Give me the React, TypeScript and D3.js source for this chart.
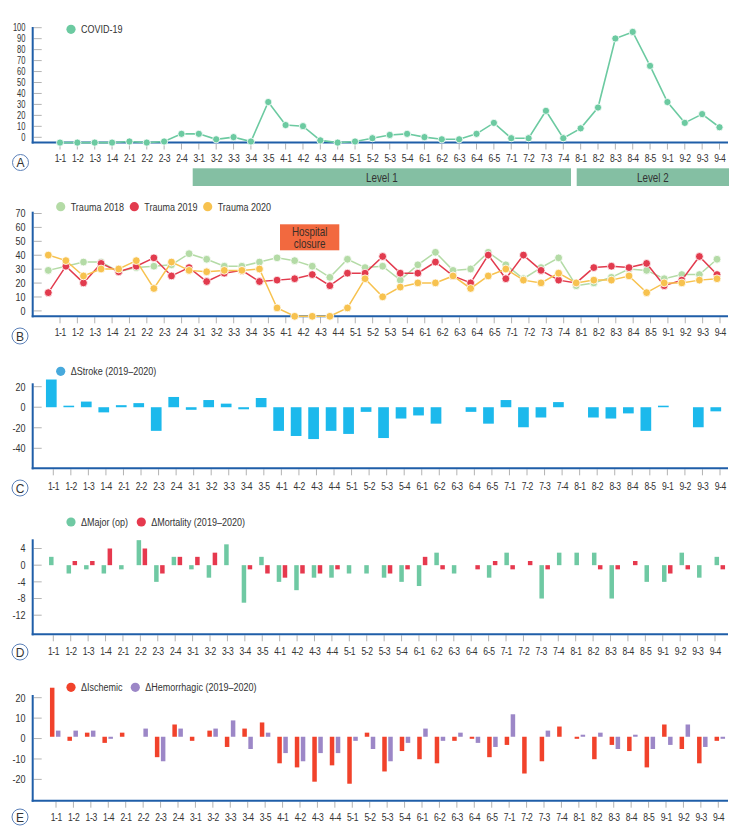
import React from 'react';
import * as d3 from 'd3';

const cats = ['1-1','1-2','1-3','1-4','2-1','2-2','2-3','2-4','3-1','3-2','3-3','3-4','3-5','4-1','4-2','4-3','4-4','5-1','5-2','5-3','5-4','6-1','6-2','6-3','6-4','6-5','7-1','7-2','7-3','7-4','8-1','8-2','8-3','8-4','8-5','9-1','9-2','9-3','9-4'];

const covid = [0,0,0,0,1,0,1,8,8,3,5,1,37,16,15,2,0,1,4,7,8,5,3,3,8,18,4,4,29,4,13,32,95,101,70,37,18,26,14];

const trauma2018 = [33,36,39,39,32,35,36,37,45,41,36,36,39,42,40,36,28,41,35,36,26,37,46,33,34,46,37,27,35,42,22,24,28,34,33,27,30,30,41];
const trauma2019 = [17,36,24,38,32,36,42,29,35,25,31,33,25,26,27,30,22,31,31,43,31,31,39,29,24,44,27,44,33,26,24,35,36,35,38,22,26,43,30];
const trauma2020 = [44,40,29,34,34,40,20,39,33,32,33,33,34,6,0,0,0,6,27,14,21,24,24,29,20,29,34,26,24,31,24,26,26,29,17,24,24,26,27];

const strokeDelta = [27,1.5,5.5,-5,2,4,-23,10,-2.5,7,3.5,-2,9,-23,-28,-31,-23,-26,-4.5,-30,-11,-8,-16,0,-4.5,-16,7,-19.5,-10,5,0,-10,-11,-6,-23,1.5,0,-19.5,-4];

const majorOp = [2,-2,-1,-2,-1,6,-4,2,-1,-3,5,-9,2,-4,-6,-3,-3,-2,-2,-3,-4,-5,3,-2,0,-3,3,0,-8,3,3,3,-8,0,-4,-4,3,-3,2];
const mortality = [0,1,1,4,0,4,-2,2,2,3,0,-1,-2,-3,-2,-2,-1,0,0,-2,-1,2,-1,0,-1,1,-1,1,-1,0,0,-1,-1,1,0,-2,-1,0,-1];

const ischemic = [24,-2,2,-3,2,0,-10,6,-2,3,-5,4,7,-13,-15,-22,-14,-23,2,-17,-7,-11,-13,-2,-1,-10,-4,-18,-12,5,-1,-11,-4,-7,-15,6,-6,-13,-2];
const hemorrhagic = [3,3,3,-1,0,4,-12,4,0,4,8,-6,2,-8,-12,-8,-8,-2,-6,-12,-3,4,-2,2,-3,-5,11,0,3,0,1,2,-6,1,-6,-4,6,-5,-1];

const ticksA = [0,10,20,30,40,50,60,70,80,90,100];
const ticksB = [0,10,20,30,40,50,60,70];
const ticksC = [20,0,-20,-40];
const ticksD = [4,0,-4,-8,-12];
const ticksE = [20,10,0,-10,-20];

const levelNames = ['Level 1', 'Level 2'];
const levelSpans = [
  [192.7, 571],
  [576.7, 729],
];

const FONT = '"Liberation Sans", Arial, sans-serif';
const AXIS = '#1f5ea8';
const TICK = '#a0a0a0';
const TXT = '#333333';
const AX_X0 = 32.7;
const AX_X1 = 728;
const SX = 0.82; // horizontal condensing of the narrow typeface

const C_COVID = '#6ccaa1';
const C_LEVEL = '#84bfa3';
const C_T18 = '#b4dba6';
const C_T19 = '#e23b4e';
const C_T20 = '#f7c24f';
const C_CLOSE = '#f2693f';
const C_STROKE = '#1cb9ec';
const C_STROKE_L = '#47a9dc';
const C_MAJOR = '#6fc9a3';
const C_MORT = '#e6394e';
const C_ISCH = '#f1422b';
const C_HEM = '#9c87c7';

type PS = d3.ScalePoint<string>;

function Txt({ x, y, children, anchor = 'start', size = 11, sx = SX, fill = TXT, ls = 0 }: { x: number; y: number; children: React.ReactNode; anchor?: 'start' | 'middle' | 'end'; size?: number; sx?: number; fill?: string; ls?: number }) {
  return (
    <text
      transform={`translate(${x},${y}) scale(${sx},1)`}
      textAnchor={anchor}
      dominantBaseline="central"
      fontFamily={FONT}
      fontSize={size}
      letterSpacing={ls}
      fill={fill}
    >
      {children}
    </text>
  );
}

function YAxis({ top, bottom, ticks, pos, size = 11, sx = SX }: { top: number; bottom: number; ticks: number[]; pos: (v: number) => number; size?: number; sx?: number }) {
  return (
    <g>
      {ticks.map((t) => (
        <g key={t}>
          <line x1={AX_X0 + 1} x2={AX_X0 + 9} y1={pos(t)} y2={pos(t)} stroke={TICK} strokeWidth={0.8} />
          <Txt x={25.5} y={pos(t)} anchor="end" size={size} sx={sx}>
            {t}
          </Txt>
        </g>
      ))}
      <line x1={AX_X0} x2={AX_X0} y1={top} y2={bottom + 1} stroke={AXIS} strokeWidth={2} />
    </g>
  );
}

function XAxis({ y, lab, labelY }: { y: number; lab: PS; labelY: number }) {
  return (
    <g>
      {cats.map((c) => (
        <g key={c}>
          <line x1={lab(c)!} x2={lab(c)!} y1={y + 1} y2={y + 7} stroke={TICK} strokeWidth={0.8} />
          <Txt x={lab(c)! + 0.3} y={labelY} anchor="middle" size={11} sx={0.78} ls={-0.5}>
            {c}
          </Txt>
        </g>
      ))}
      <line x1={AX_X0 - 1} x2={AX_X1} y1={y} y2={y} stroke={AXIS} strokeWidth={2} />
    </g>
  );
}

function Badge({ x, y, label }: { x: number; y: number; label: string }) {
  return (
    <g>
      <circle cx={x} cy={y} r={8} fill="#fff" stroke="#5b80b8" strokeWidth={1} />
      <text x={x} y={y + 0.5} textAnchor="middle" dominantBaseline="central" fontFamily={FONT} fontSize={12} fill={TXT}>
        {label}
      </text>
    </g>
  );
}

function LegendItem({ x, y, color, label }: { x: number; y: number; color: string; label: string }) {
  return (
    <g>
      <circle cx={x} cy={y} r={4.6} fill={color} />
      <Txt x={x + 10} y={y} size={11}>
        {label}
      </Txt>
    </g>
  );
}

function Bars({ values, xs, y, width, color, offset }: { values: number[]; xs: PS; y: d3.ScaleLinear<number, number>; width: number; color: string; offset?: number }) {
  const y0 = y(0);
  return (
    <g>
      {values.map((v, i) => {
        const yv = y(v);
        const h = Math.abs(yv - y0);
        if (h === 0) return null;
        return (
          <rect
            key={i}
            x={xs(cats[i])! + (offset ?? 0) - width / 2}
            y={Math.min(yv, y0)}
            width={width}
            height={h}
            fill={color}
          />
        );
      })}
    </g>
  );
}

function LineSeries({ values, xs, y, color, r, width }: { values: number[]; xs: PS; y: d3.ScaleLinear<number, number>; color: string; r: number; width: number }) {
  const line = d3
    .line<number>()
    .x((_, i) => xs(cats[i])!)
    .y((d) => y(d));
  return (
    <g>
      <path d={line(values) ?? ''} fill="none" stroke={color} strokeWidth={width} />
      {values.map((v, i) => (
        <circle key={i} cx={xs(cats[i])!} cy={y(v)} r={r} fill={color} stroke="#fff" strokeWidth={0.8} />
      ))}
    </g>
  );
}

export default function App() {
  // Panel A
  const xA = d3.scalePoint<string>().domain(cats).range([60, 719.5]);
  const yA = d3.scaleLinear().domain([0, 100]).range([142.6, 33]);
  const offA = 5.3;

  // Panel B
  const xBpt = d3.scalePoint<string>().domain(cats).range([48.3, 717]);
  const xBlab = d3.scalePoint<string>().domain(cats).range([60, 720]);
  const yB = d3.scaleLinear().domain([0, 70]).range([316.3, 218.9]);
  const offB = 5.4;

  // Panel C
  const xCbar = d3.scalePoint<string>().domain(cats).range([51.3, 715.8]);
  const xClab = d3.scalePoint<string>().domain(cats).range([53.3, 720]);
  const yC = d3.scaleLinear().domain([20, -40]).range([386.7, 448.3]);

  // Panel D
  const xDbar = d3.scalePoint<string>().domain(cats).range([51.3, 716.8]);
  const xDlab = d3.scalePoint<string>().domain(cats).range([53.3, 715]);
  const yD = d3.scaleLinear().domain([4, -12]).range([548.5, 615.2]);

  // Panel E
  const xEbar = d3.scalePoint<string>().domain(cats).range([52.2, 716.8]);
  const xElab = d3.scalePoint<string>().domain(cats).range([56, 718.3]);
  const yE = d3.scaleLinear().domain([20, -20]).range([695.9, 777.6]);

  return (
    <svg width={741} height={836} style={{ position: 'absolute', left: 0, top: 0, background: '#fff' }}>
      <rect width={741} height={836} fill="#fff" />

      {/* ---------- Panel A ---------- */}
      <YAxis top={27} bottom={142.5} ticks={ticksA} pos={(v) => yA(v) - offA} size={10.5} sx={0.72} />
      <XAxis y={142.5} lab={xA} labelY={158.3} />
      <LineSeries values={covid} xs={xA} y={yA} color={C_COVID} r={3.6} width={1.6} />
      <LegendItem x={71} y={29.3} color={C_COVID} label="COVID-19" />
      <Badge x={20.5} y={162.5} label="A" />
      {levelNames.map((name, i) => {
        const [x0, x1] = levelSpans[i];
        return (
          <g key={name}>
            <rect x={x0} y={168.3} width={x1 - x0} height={17.7} fill={C_LEVEL} />
            <Txt x={(x0 + x1) / 2} y={177.3} anchor="middle" size={12}>
              {name}
            </Txt>
          </g>
        );
      })}

      {/* ---------- Panel B ---------- */}
      <YAxis top={211.7} bottom={316.3} ticks={ticksB} pos={(v) => yB(v) - offB} />
      <XAxis y={316.3} lab={xBlab} labelY={332} />
      <rect x={280} y={224.3} width={59.3} height={26} fill={C_CLOSE} />
      <Txt x={309.7} y={231.8} anchor="middle" size={12} fill="#3a2e28">Hospital</Txt>
      <Txt x={309.7} y={243.5} anchor="middle" size={12} fill="#3a2e28">closure</Txt>
      <LineSeries values={trauma2018} xs={xBpt} y={yB} color={C_T18} r={3.9} width={1.5} />
      <LineSeries values={trauma2019} xs={xBpt} y={yB} color={C_T19} r={3.9} width={1.5} />
      <LineSeries values={trauma2020} xs={xBpt} y={yB} color={C_T20} r={3.9} width={1.5} />
      <LegendItem x={60.7} y={206.7} color={C_T18} label="Trauma 2018" />
      <LegendItem x={134.3} y={206.7} color={C_T19} label="Trauma 2019" />
      <LegendItem x={207.7} y={206.7} color={C_T20} label="Trauma 2020" />
      <Badge x={20} y={336} label="B" />

      {/* ---------- Panel C ---------- */}
      <YAxis top={383.3} bottom={468.3} ticks={ticksC} pos={(v) => yC(v)} />
      <Bars values={strokeDelta} xs={xCbar} y={yC} width={10.7} color={C_STROKE} />
      <XAxis y={468.3} lab={xClab} labelY={485.7} />
      <LegendItem x={60.7} y={371.3} color={C_STROKE_L} label="ΔStroke (2019–2020)" />
      <Badge x={20} y={488} label="C" />

      {/* ---------- Panel D ---------- */}
      <YAxis top={539.3} bottom={634.3} ticks={ticksD} pos={(v) => yD(v)} />
      <Bars values={majorOp} xs={xDbar} y={yD} width={4.5} color={C_MAJOR} />
      <Bars values={mortality} xs={xDbar} y={yD} width={4.5} color={C_MORT} offset={6} />
      <XAxis y={634.3} lab={xDlab} labelY={651} />
      <LegendItem x={71} y={522} color={C_MAJOR} label="ΔMajor (op)" />
      <LegendItem x={141.3} y={522} color={C_MORT} label="ΔMortality (2019–2020)" />
      <Badge x={20} y={652} label="D" />

      {/* ---------- Panel E ---------- */}
      <YAxis top={695} bottom={800.7} ticks={ticksE} pos={(v) => yE(v) + 1.8} />
      <Bars values={ischemic} xs={xEbar} y={yE} width={4.5} color={C_ISCH} />
      <Bars values={hemorrhagic} xs={xEbar} y={yE} width={4.5} color={C_HEM} offset={6} />
      <XAxis y={800.7} lab={xElab} labelY={816.7} />
      <LegendItem x={71} y={687.3} color={C_ISCH} label="ΔIschemic" />
      <LegendItem x={135.3} y={687.3} color={C_HEM} label="ΔHemorrhagic (2019–2020)" />
      <Badge x={20} y={817} label="E" />
    </svg>
  );
}
